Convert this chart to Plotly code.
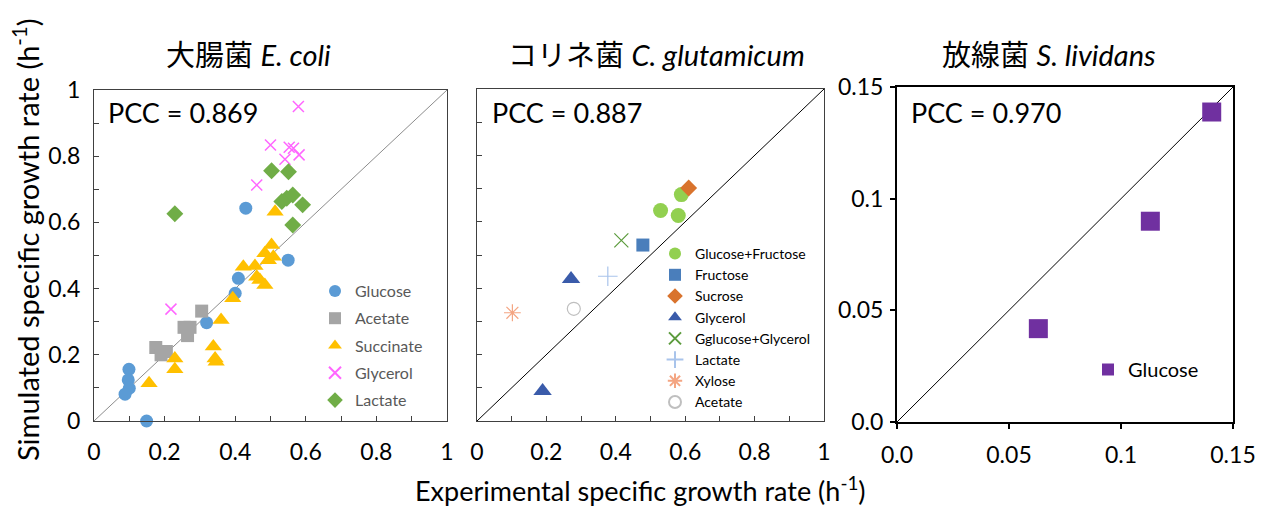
import plotly.graph_objects as go

W, H = 1261, 506

# ---------------- E. coli data ----------------
ec_glucose_x = [0.099, 0.097, 0.100, 0.088, 0.149, 0.319, 0.400, 0.409, 0.430, 0.550]
ec_glucose_y = [0.156, 0.124, 0.099, 0.081, 0.000, 0.297, 0.386, 0.431, 0.643, 0.486]
ec_acetate_x = [0.175, 0.190, 0.205, 0.255, 0.272, 0.265, 0.305]
ec_acetate_y = [0.222, 0.200, 0.210, 0.283, 0.283, 0.258, 0.332]
ec_succinate_x = [0.156, 0.229, 0.229, 0.338, 0.343, 0.346, 0.360, 0.393, 0.423, 0.456,
                  0.461, 0.470, 0.484, 0.484, 0.503, 0.508, 0.494, 0.513]
ec_succinate_y = [0.114, 0.189, 0.156, 0.225, 0.189, 0.179, 0.305, 0.371, 0.466, 0.468,
                  0.436, 0.426, 0.411, 0.507, 0.532, 0.496, 0.486, 0.632]
ec_glycerol_x = [0.579, 0.500, 0.553, 0.565, 0.581, 0.541, 0.461, 0.218]
ec_glycerol_y = [0.950, 0.834, 0.827, 0.824, 0.804, 0.791, 0.713, 0.338]
ec_lactate_x = [0.229, 0.503, 0.551, 0.532, 0.546, 0.563, 0.591, 0.563]
ec_lactate_y = [0.626, 0.756, 0.753, 0.663, 0.673, 0.683, 0.653, 0.592]

# ---------------- C. glutamicum data ----------------
cg_glcfru_x = [0.529, 0.580, 0.589]
cg_glcfru_y = [0.634, 0.619, 0.682]
cg_fructose_x = [0.478]
cg_fructose_y = [0.530]
cg_sucrose_x = [0.610]
cg_sucrose_y = [0.702]
cg_glycerol_x = [0.271, 0.189]
cg_glycerol_y = [0.428, 0.090]
cg_glcgly_x = [0.416]
cg_glcgly_y = [0.544]
cg_lactate_x = [0.377]
cg_lactate_y = [0.436]
cg_xylose_x = [0.102]
cg_xylose_y = [0.326]
cg_acetate_x = [0.279]
cg_acetate_y = [0.338]

# ---------------- S. lividans data ----------------
sl_glucose_x = [0.0631, 0.1131, 0.1405]
sl_glucose_y = [0.0418, 0.0899, 0.1388]

# tick labels
p12_tickvals = [0, 0.2, 0.4, 0.6, 0.8, 1]
p12_ticktext = ["0", "0.2", "0.4", "0.6", "0.8", "1"]
p3_tickvals = [0, 0.05, 0.1, 0.15]
p3_ticktext = ["0.0", "0.05", "0.1", "0.15"]

titles = ["大腸菌 <i>E. coli</i>", "コリネ菌 <i>C. glutamicum</i>", "放線菌 <i>S. lividans</i>"]
pcc_texts = ["PCC = 0.869", "PCC = 0.887", "PCC = 0.970"]

FONT = "Lato, 'Noto Sans CJK JP', sans-serif"

fig = go.Figure()

def add(x, y, name, xa, ya, legend, color, symbol, size, line_w=0, line_c=None, clip=True):
    fig.add_trace(go.Scatter(
        x=x, y=y, mode="markers", name=name, xaxis=xa, yaxis=ya,
        legend=legend, legendgroup=name + legend, cliponaxis=clip,
        marker=dict(color=color, symbol=symbol, size=size,
                    line=dict(width=line_w, color=line_c if line_c else color)),
    ))

# diagonal reference lines
fig.add_trace(go.Scatter(x=[0, 1], y=[0, 1], mode="lines", xaxis="x", yaxis="y",
                         line=dict(color="#8C8C8C", width=1), showlegend=False, hoverinfo="skip"))
fig.add_trace(go.Scatter(x=[0, 1], y=[0, 1], mode="lines", xaxis="x2", yaxis="y2",
                         line=dict(color="black", width=1), showlegend=False, hoverinfo="skip"))
fig.add_trace(go.Scatter(x=[0, 0.15], y=[0, 0.15], mode="lines", xaxis="x3", yaxis="y3",
                         line=dict(color="black", width=1), showlegend=False, hoverinfo="skip"))

# panel 1
add(ec_glucose_x, ec_glucose_y, "Glucose", "x", "y", "legend", "#5B9BD5", "circle", 13, clip=False)
add(ec_acetate_x, ec_acetate_y, "Acetate", "x", "y", "legend", "#A5A5A5", "square", 13)
add(ec_succinate_x, ec_succinate_y, "Succinate", "x", "y", "legend", "#FFC000", "triangle-up", 15)
add(ec_glycerol_x, ec_glycerol_y, "Glycerol", "x", "y", "legend", "#FF66FF", "x-thin-open", 11, 1.5, "#FF66FF")
add(ec_lactate_x, ec_lactate_y, "Lactate", "x", "y", "legend", "#70AD47", "diamond", 13)

# panel 2
add(cg_glcfru_x, cg_glcfru_y, "Glucose+Fructose", "x2", "y2", "legend2", "#92D050", "circle", 15)
add(cg_fructose_x, cg_fructose_y, "Fructose", "x2", "y2", "legend2", "#4A7EBB", "square", 13)
add(cg_sucrose_x, cg_sucrose_y, "Sucrose", "x2", "y2", "legend2", "#D9732D", "diamond", 13)
add(cg_glycerol_x, cg_glycerol_y, "Glycerol", "x2", "y2", "legend2", "#3A5BAA", "triangle-up", 16)
add(cg_glcgly_x, cg_glcgly_y, "Gglucose+Glycerol", "x2", "y2", "legend2", "#5B9B3C", "x-thin-open", 14, 1.2, "#5B9B3C")
add(cg_lactate_x, cg_lactate_y, "Lactate", "x2", "y2", "legend2", "#A9C4EB", "cross-thin-open", 14, 1.2, "#A9C4EB")
add(cg_xylose_x, cg_xylose_y, "Xylose", "x2", "y2", "legend2", "#F4A582", "asterisk-open", 14, 1.2, "#F4A582")
add(cg_acetate_x, cg_acetate_y, "Acetate", "x2", "y2", "legend2", "#BFBFBF", "circle-open", 13, 1.2, "#BFBFBF")

# panel 3
add(sl_glucose_x, sl_glucose_y, "Glucose", "x3", "y3", "legend3", "#7030A0", "square", 19)

def px_x(a, b):
    return [a / W, b / W]

def px_y(top, bottom):
    return [(H - bottom) / H, (H - top) / H]

tickfont = dict(family=FONT, size=23, color="black")

common12 = dict(range=[0, 1], tickvals=p12_tickvals, ticktext=p12_ticktext,
                ticks="inside", ticklen=5, tickcolor="#404040", showgrid=False, zeroline=False,
                showline=True, linecolor="#404040", linewidth=1, mirror=True, automargin=False,
                minor=dict(dtick=0.1, ticks="inside", ticklen=5, tickcolor="#404040", showgrid=False),
                tickfont=tickfont)

common3 = dict(range=[0, 0.15], tickvals=p3_tickvals, ticktext=p3_ticktext, ticks="outside",
               ticklen=5, tickcolor="black", tickwidth=1.5, showgrid=False, zeroline=False,
               showline=True, linecolor="black", linewidth=2, mirror=True, automargin=False,
               tickfont=tickfont)

fig.update_layout(
    width=W, height=H, margin=dict(l=0, r=0, t=0, b=0, autoexpand=False),
    paper_bgcolor="white", plot_bgcolor="white",
    font=dict(family=FONT, color="black"),
    xaxis=dict(domain=px_x(94, 447), anchor="y", ticklabelstandoff=10, **common12),
    yaxis=dict(domain=px_y(90, 421), anchor="x", ticklabelstandoff=8, **common12),
    xaxis2=dict(domain=px_x(477, 824), anchor="y2", ticklabelstandoff=10, **common12),
    yaxis2=dict(domain=px_y(89, 421), anchor="x2", showticklabels=False, **common12),
    xaxis3=dict(domain=px_x(897, 1233), anchor="y3", ticklabelstandoff=6, **common3),
    yaxis3=dict(domain=px_y(87, 422), anchor="x3", ticklabelstandoff=2, **common3),
    legend=dict(x=315 / W, y=(H - 274) / H, xanchor="left", yanchor="top",
                bgcolor="rgba(0,0,0,0)", font=dict(family=FONT, size=16, color="#595959"),
                tracegroupgap=3.5, itemsizing="constant"),
    legend2=dict(x=655 / W, y=(H - 238) / H, xanchor="left", yanchor="top",
                 bgcolor="rgba(0,0,0,0)", font=dict(family=FONT, size=14, color="black"),
                 tracegroupgap=0, itemsizing="constant"),
    legend3=dict(x=1088 / W, y=(H - 350) / H, xanchor="left", yanchor="top",
                 bgcolor="rgba(0,0,0,0)", font=dict(family=FONT, size=20, color="black"),
                 itemsizing="constant"),
    showlegend=True,
)

annotations = []
for cx, t in zip([248, 656, 1049], titles):
    annotations.append(dict(x=cx / W, y=(H - 54) / H, xref="paper", yref="paper", text=t,
                            showarrow=False, xanchor="center", yanchor="middle",
                            font=dict(family=FONT, size=29, color="black")))
for lx, t in zip([106, 490, 909], pcc_texts):
    annotations.append(dict(x=lx / W, y=(H - 112) / H, xref="paper", yref="paper", text=t,
                            showarrow=False, xanchor="left", yanchor="middle",
                            font=dict(family=FONT, size=27, color="black")))
annotations.append(dict(x=640 / W, y=(H - 489) / H, xref="paper", yref="paper",
                        text="Experimental specific growth rate (h<sup>-1</sup>)",
                        showarrow=False, xanchor="center", yanchor="middle",
                        font=dict(family=FONT, size=27, color="black")))
annotations.append(dict(x=26 / W, y=(H - 240) / H, xref="paper", yref="paper",
                        text="Simulated specific growth rate (h<sup>-1</sup>)", textangle=-90,
                        showarrow=False, xanchor="center", yanchor="middle",
                        font=dict(family=FONT, size=29, color="black")))
fig.update_layout(annotations=annotations)

fig.write_html("out.html", config={"displayModeBar": False},
               post_script="document.body.style.margin='0';document.body.style.padding='0';")
